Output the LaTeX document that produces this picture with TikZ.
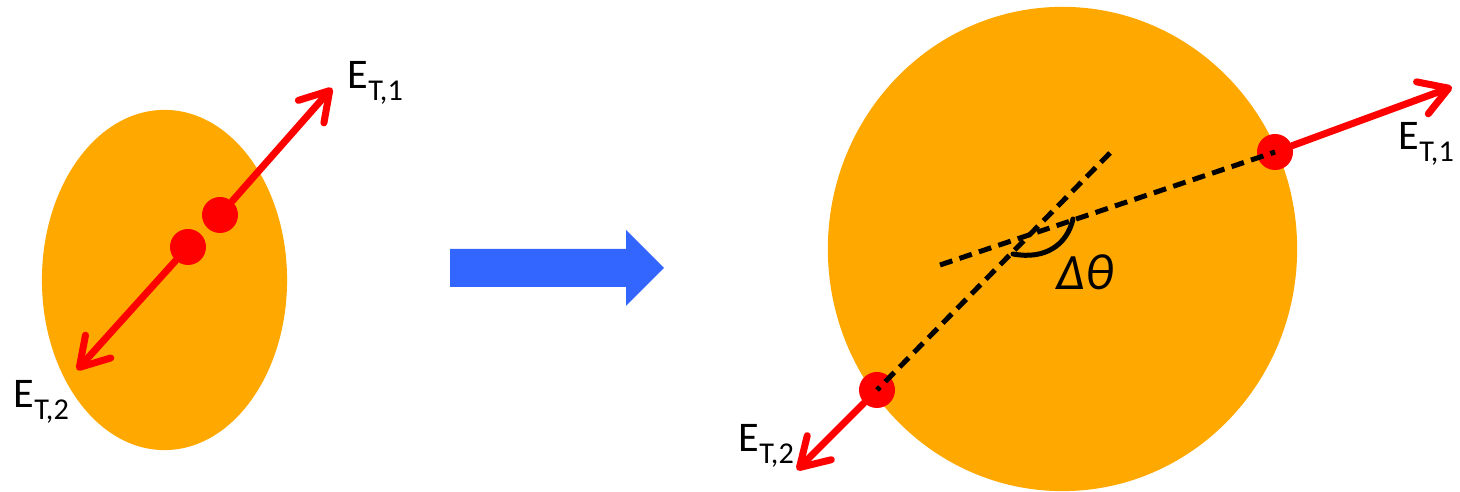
\documentclass[tikz,border=0pt]{standalone}
\usepackage{fontspec}
\setmainfont{Carlito}
\usepackage{xcolor}
\usetikzlibrary{arrows.meta, positioning}

\definecolor{nucOrange}{RGB}{255,168,0}
\definecolor{flowBlue}{RGB}{51,102,255}
\definecolor{fragRed}{RGB}{255,0,0}

\newcommand{\Elab}[1]{E\raisebox{-3.4pt}{\fontsize{8.6pt}{9pt}\selectfont #1}}

\begin{document}
\begin{tikzpicture}[
  x=0.01cm, y=-0.01cm,
  nucleus/.style={fill=nucOrange},
  frag/.style={circle, fill=fragRed, minimum size=0.36cm, inner sep=0pt},
  fragarrow/.style={-{Straight Barb[length=0.28cm, width=0.34cm, round]},
                    line width=0.07cm, fragRed, line cap=round},
  axis/.style={dash pattern=on 0.13cm off 0.075cm, line width=0.05cm, black},
  lbl/.style={anchor=base west, inner sep=0pt, font=\fontsize{12pt}{14pt}\selectfont}
]
  \useasboundingbox (0,0) rectangle (1460,492);

  % deformed nucleus before scission
  \fill[nucleus] (164.5,280) ellipse [x radius=1.225cm, y radius=1.70cm];
  \node[frag] (fragLa) at (220,215) {};
  \node[frag] (fragLb) at (188,247) {};
  \coordinate (tipLa) at (332,88);
  \coordinate (tipLb) at (77,370);
  \draw[fragarrow] (fragLa) -- (tipLa);
  \draw[fragarrow] (fragLb) -- (tipLb);
  \node[lbl] (labLa) at (347,89)  {\Elab{T,1}};
  \node[lbl] (labLb) at (13,408)  {\Elab{T,2}};

  % transition arrow
  \fill[flowBlue] (450,249) -- (626,249) -- (626,230) -- (664,268)
                  -- (626,306) -- (626,287) -- (450,287) -- cycle;

  % separated fragments
  \fill[nucleus] (1062.5,249) ellipse [x radius=2.345cm, y radius=2.42cm];
  \node[frag] (fragRa) at (1275,152) {};
  \node[frag] (fragRb) at (877,390) {};
  \coordinate (tipRa) at (1452,87);
  \coordinate (tipRb) at (797,470);
  \draw[fragarrow] (fragRa) -- (tipRa);
  \draw[fragarrow] (fragRb) -- (tipRb);

  \coordinate (axAstart) at (940,265);
  \coordinate (axBstart) at (1110,153);
  \draw[axis] (axAstart) -- (fragRa.center);
  \draw[axis] (axBstart) -- (fragRb.center);

  % opening angle
  \coordinate (angA) at (1073,219);
  \coordinate (angB) at (1013,254);
  \draw[line width=0.05cm, line cap=round] (angA) .. controls (1067,245) and (1045,260) .. (angB);
  \node[anchor=base west, inner sep=0pt, font=\fontsize{14.5pt}{16pt}\selectfont\itshape] (dtheta) at (1056,290) {Δθ};

  \node[lbl] (labRa) at (1398,150) {\Elab{T,1}};
  \node[lbl] (labRb) at (738,452)  {\Elab{T,2}};
\end{tikzpicture}
\end{document}
